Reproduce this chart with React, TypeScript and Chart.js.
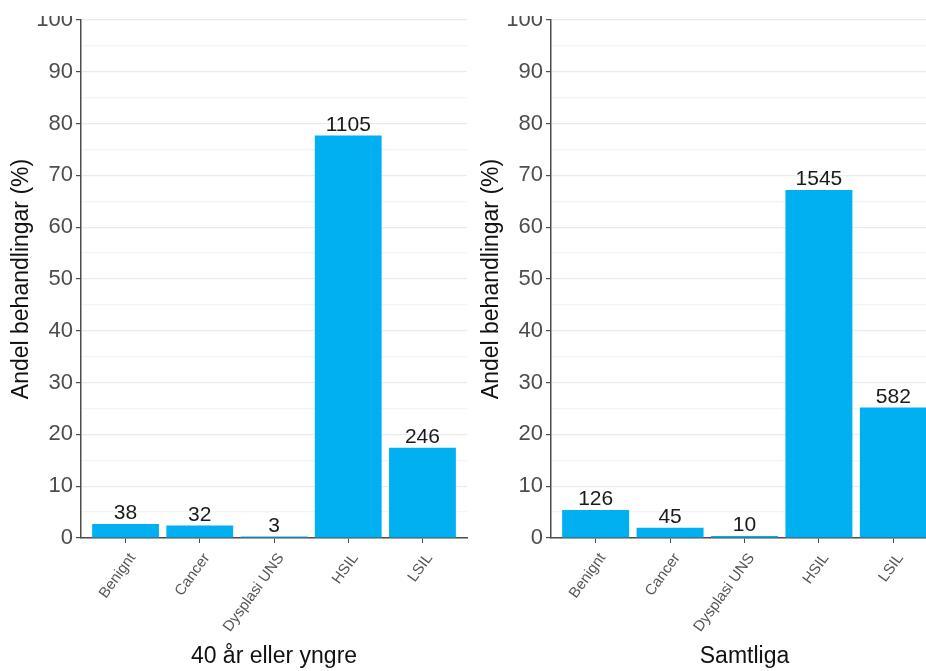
import React, { useEffect, useRef } from "react";
import { Chart, registerables } from "chart.js";

Chart.register(...registerables);

const categories = ["Benignt", "Cancer", "Dysplasi UNS", "HSIL", "LSIL"];
const pctYoung = [2.7, 2.4, 0.3, 77.7, 17.4];
const countYoung = [38, 32, 3, 1105, 246];
const pctAll = [5.4, 2.0, 0.4, 67.2, 25.2];
const countAll = [126, 45, 10, 1545, 582];
const titleYoung = "40 år eller yngre";
const titleAll = "Samtliga";
const yTitle = "Andel behandlingar (%)";

const FONT = "'Liberation Sans', Arial, Helvetica, sans-serif";
const BAR = "#00B0F0";
const AXIS = "#4d4d4d";

type PanelProps = {
  pct: number[];
  counts: number[];
  xTitle: string;
  width: number;
  height: number;
  left: number;
  top: number;
};

function Panel({ pct, counts, xTitle, width, height, left, top }: PanelProps) {
  const ref = useRef<HTMLCanvasElement | null>(null);

  useEffect(() => {
    if (!ref.current) return;
    const labelPlugin = {
      id: "barLabels",
      afterDatasetsDraw(chart: any) {
        const ctx = chart.ctx;
        const meta = chart.getDatasetMeta(0);
        ctx.save();
        ctx.font = `21px ${FONT}`;
        ctx.fillStyle = "#1a1a1a";
        ctx.textAlign = "center";
        ctx.textBaseline = "bottom";
        meta.data.forEach((el: any, i: number) => {
          ctx.fillText(String(counts[i]), el.x, el.y);
        });
        ctx.restore();
      },
    };

    const chart = new Chart(ref.current, {
      type: "bar",
      data: {
        datasets: [
          {
            data: pct.map((v, i) => ({ x: i, y: v })),
            backgroundColor: BAR,
            borderWidth: 0,
            barPercentage: 0.9,
            categoryPercentage: 1.0,
          },
        ],
      },
      options: {
        responsive: false,
        animation: false,
        devicePixelRatio: 1,
        layout: { padding: { top: 26, right: 3, left: 0, bottom: 0 } },
        plugins: { legend: { display: false }, tooltip: { enabled: false } },
        scales: {
          x: {
            type: "linear",
            min: -0.6,
            max: 4.6,
            offset: false,
            afterBuildTicks: (s: any) => {
              s.ticks = categories.map((_, i) => ({ value: i }));
            },
            afterFit: (s: any) => {
              s.height = 133;
            },
            ticks: {
              autoSkip: false,
              minRotation: 54,
              maxRotation: 54,
              padding: 7,
              labelOffset: 7,
              color: "#555",
              font: { family: FONT, size: 15 },
              callback: (v: any) => categories[v as number] ?? "",
            },
            grid: {
              display: true,
              offset: false,
              drawOnChartArea: false,
              drawTicks: true,
              tickLength: 5,
              tickColor: AXIS,
              color: AXIS,
            },
            border: { display: true, color: AXIS, width: 1.5 },
            title: {
              display: true,
              text: xTitle,
              color: "#111",
              font: { family: FONT, size: 23 },
              padding: { top: 4, bottom: 1 },
            },
          },
          y: {
            min: 0,
            max: 100,
            afterFit: (s: any) => {
              s.width = 81;
            },
            ticks: {
              stepSize: 5,
              autoSkip: false,
              color: AXIS,
              padding: 3,
              font: { family: FONT, size: 22 },
              callback: (v: any) => ((v as number) % 10 === 0 ? String(v) : ""),
            },
            grid: {
              color: (c: any) =>
                c.tick && c.tick.value % 10 === 0 ? "#EBEBEB" : "#F4F4F4",
              lineWidth: 1.2,
              tickColor: (c: any) =>
                c.tick && c.tick.value % 10 === 0 ? AXIS : "rgba(0,0,0,0)",
              tickLength: 5,
            },
            border: { display: true, color: AXIS, width: 1.5 },
            title: {
              display: true,
              text: yTitle,
              color: "#111",
              font: { family: FONT, size: 23 },
              padding: { top: 8, bottom: 0 },
            },
          },
        },
      },
      plugins: [labelPlugin],
    } as any);
    return () => chart.destroy();
  }, [pct, counts, xTitle]);

  return (
    <canvas
      ref={ref}
      width={width}
      height={height}
      style={{ position: "absolute", left, top, width, height }}
    />
  );
}

export default function App() {
  return (
    <div
      style={{
        position: "fixed",
        left: 0,
        top: 0,
        width: 926,
        height: 671,
        overflow: "hidden",
        background: "#fff",
      }}
    >
      <Panel pct={pctYoung} counts={countYoung} xTitle={titleYoung} width={470} height={677} left={0} top={-6} />
      <Panel pct={pctAll} counts={countAll} xTitle={titleAll} width={471} height={677} left={470} top={-6} />
      <div
        style={{
          position: "absolute",
          left: 0,
          top: 0,
          width: 926,
          height: 16,
          background: "#fff",
        }}
      />
    </div>
  );
}
